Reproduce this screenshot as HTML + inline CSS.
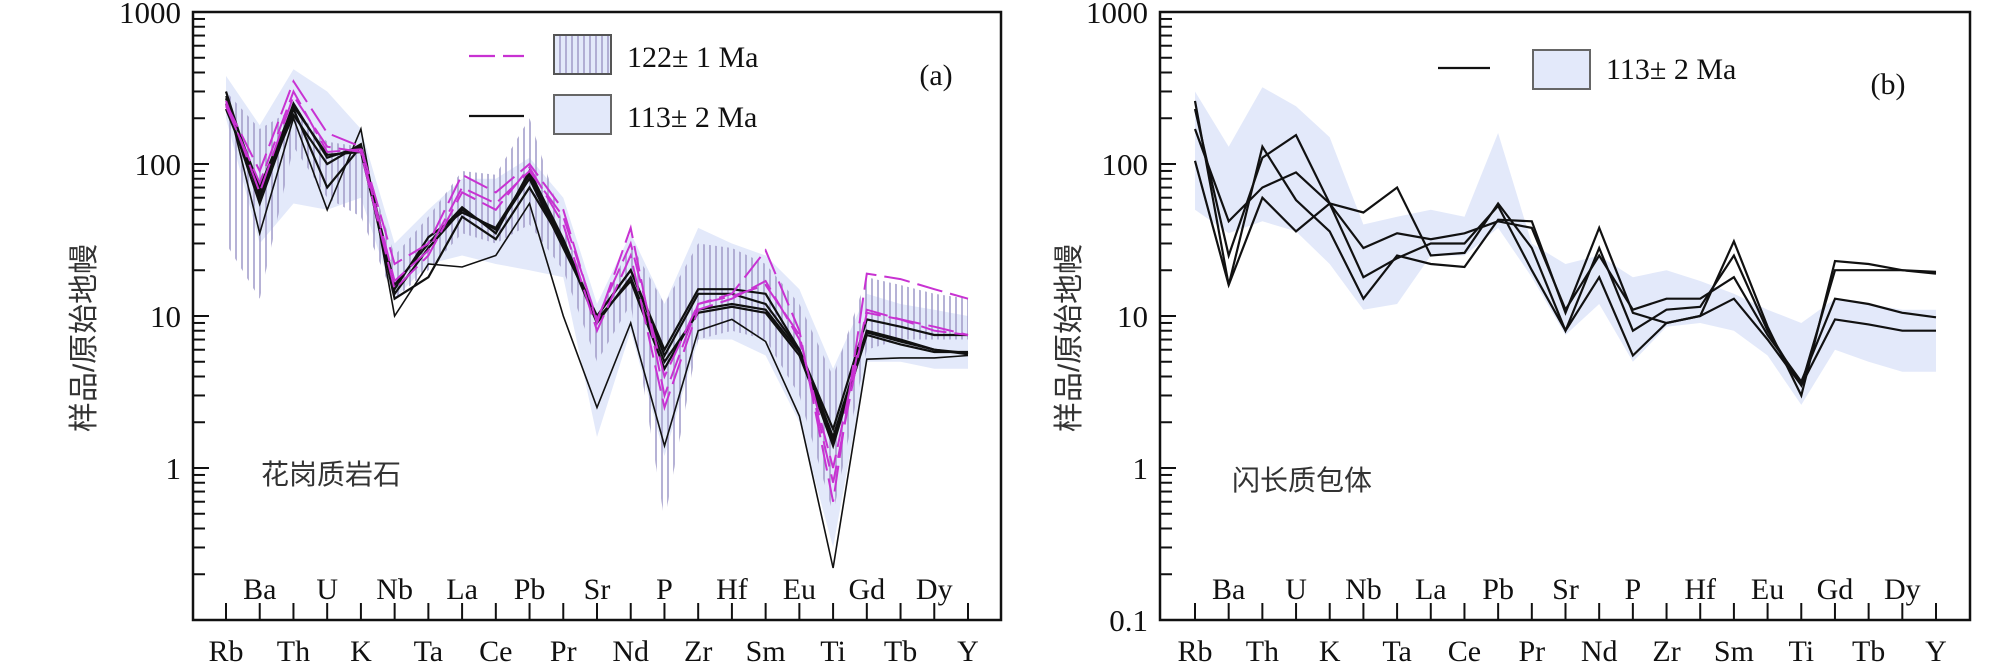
<!DOCTYPE html>
<html><head><meta charset="utf-8"><style>
html,body{margin:0;padding:0;background:#fff;}
svg{display:block;}
text{font-family:"Liberation Serif","Noto Serif CJK SC",serif;fill:#111;}
.cjk{font-family:"Liberation Sans","Noto Sans CJK SC",sans-serif;fill:#333;}
</style></head><body>
<svg id="chart" width="2008" height="668" viewBox="0 0 2008 668" xmlns="http://www.w3.org/2000/svg">
<defs>
<pattern id="hatch" patternUnits="userSpaceOnUse" width="6" height="10">
<line x1="2" y1="0" x2="2" y2="10" stroke="#a49fcb" stroke-width="1.6"/>
</pattern>
</defs>
</svg>
<script>
const elements = ["Rb","Ba","Th","U","K","Nb","Ta","La","Ce","Pb","Pr","Sr","Nd","P","Zr","Hf","Sm","Eu","Ti","Gd","Tb","Dy","Y"];
const yTicks = [0.1,1,10,100,1000];
const yTickLabels = ["0.1","1","10","100","1000"];
// Panel (a)
const aBand113Upper = [380,180,420,300,170,30,50,80,80,110,60,12,35,12,38,30,25,15,4.5,14,12,11,10];
const aBand113Lower = [200,30,55,50,60,13,22,25,22,20,18,1.6,8,1.2,7,7,5.5,2,0.3,5,5,4.5,4.5];
const aBand122Upper = [300,170,230,140,130,25,45,90,85,200,40,10,30,12,30,28,22,12,4,18,16,14,13];
const aBand122Lower = [30,13,130,60,45,13,20,35,30,40,20,5,12,0.45,7,8,7,3,0.5,6,7,7,7];
const aMag1 = [250,90,350,160,130,22,30,85,65,100,50,9,38,3,12,14,27,8,0.6,19,17.5,15,13];
const aMag2 = [260,65,280,130,120,15,25,65,50,95,40,8,25,2.5,11,13,17,7,1.0,11,9.5,8.5,7.5];
const aMag3 = [240,75,300,120,125,17,27,70,55,90,45,9.5,30,4,12,13.5,16,7.5,0.8,10.5,9.5,8,7.5];
const aBlk1 = [300,60,250,110,130,14,28,50,37,80,28,10,20,6,15,15,14,6,1.8,9.5,8.5,7.5,7.5];
const aBlk2 = [280,35,200,50,170,10,22,21,25,55,10,2.5,9,1.4,8,9.5,6.8,2.2,0.22,5.2,5.3,5.3,5.5];
const aBlk3 = [250,55,230,70,130,13,18,45,32,70,30,9,18,5,10.5,11.5,10.5,5.5,1.5,7.5,6.5,5.8,5.8];
const aBlk4 = [270,70,240,115,120,15,33,48,38,85,30,10,20,5.5,14,14,12,6,1.6,8,7,6,5.6];
const aBlk5 = [230,65,210,100,135,16,30,52,35,90,32,9.5,17,4.5,11,12,11,5.8,1.4,7.8,6.8,6,5.7];
// Panel (b)
const bBandUpper = [300,130,320,240,150,40,45,50,45,160,30,22,25,18,20,17,14,11,9,13,12,11,11];
const bBandLower = [50,35,42,36,22,11,12,25,25,38,18,7.5,12,5,8.5,9,8,5.5,2.6,6,5,4.3,4.3];
const bBlk1 = [260,16,130,58,36,13,25,22,21,43,42,10.5,38,10.5,9,10,31,8.5,3,23,22,20,19.5];
const bBlk2 = [230,25,110,155,55,48,70,25,26,55,28,8,28,8,11,11.5,25,8,3.5,20,20,20,19];
const bBlk3 = [170,42,70,88,55,28,35,32,35,42,38,11,25,11,13,13,18,7.5,3.7,13,12,10.5,9.8];
const bBlk4 = [105,16,60,36,55,18,24,30,30,53,20,8,18,5.5,9,10,13,7,3.5,9.5,8.8,8,8];

const NS="http://www.w3.org/2000/svg";
const svg=document.getElementById('chart');
function mk(tag,attrs,parent){const e=document.createElementNS(NS,tag);for(const k in attrs)e.setAttribute(k,attrs[k]);(parent||svg).appendChild(e);return e;}

function panel(cfg){
  const g=mk('g',{});
  
  
  const top=12,bot=620,L=cfg.left,R=cfg.right;
  const x0=cfg.x0,x1=cfg.x1;
  const xs=i=>x0+(x1-x0)*i/(elements.length-1);
  const ys=v=>bot-(Math.log10(v)+1)*(bot-top)/4;
  const pts=a=>a.map((v,i)=>xs(i).toFixed(1)+','+ys(v).toFixed(1));
  function band(up,lo,fill,name){
    const p=mk('polygon',{points:pts(up).concat(pts(lo).reverse()).join(' '),fill:fill,stroke:'none'},g);
    
    
  }
  function line(a,stroke,dash,w,name){
    const p=mk('polyline',{points:pts(a).join(' '),fill:'none',stroke:stroke,'stroke-width':w,'stroke-linejoin':'miter'},g);
    if(dash)p.setAttribute('stroke-dasharray',dash);
    
    
  }
  cfg.bands.forEach(b=>band(b[0],b[1],b[2],b[3]));
  cfg.lines.forEach(l=>line(l[0],l[1],l[2],l[3],l[4]));
  const fr=mk('rect',{x:L,y:top,width:R-L,height:bot-top,fill:'none',stroke:'#111','stroke-width':2.5},g);
  
  
  for(let d=-1;d<3;d++){for(let m=1;m<10;m++){const v=m*Math.pow(10,d);const y=ys(v);
    mk('line',{x1:L,x2:L+(m===1?16:12),y1:y,y2:y,stroke:'#111','stroke-width':2},g);}}
  yTicks.forEach((v,i)=>{
    if(v===0.1&&!cfg.showMin)return;
    const t=mk('text',{x:L-12,y:ys(v)+11,'text-anchor':'end','font-size':31},g);t.textContent=yTickLabels[i];
    
    
  });
  elements.forEach((el,i)=>{
    const x=xs(i);
    mk('line',{x1:x,x2:x,y1:603,y2:bot,stroke:'#111','stroke-width':2},g);
    const t=mk('text',{x:x,y:i%2===0?661:599,'text-anchor':'middle','font-size':30},g);t.textContent=el;
    
    
  });
  const yt=mk('text',{x:0,y:0,transform:`translate(${cfg.ytx},338) rotate(-90)`,'text-anchor':'middle','font-size':30,class:'cjk'},g);
  yt.textContent='样品/原始地幔';
  
  
  const an=mk('text',{x:cfg.annX,y:cfg.annY,'font-size':28,class:'cjk'},g);
  an.textContent=cfg.ann;
  
  
  const pl=mk('text',{x:cfg.plX,y:cfg.plY,'text-anchor':'middle','font-size':30},g);
  pl.textContent=cfg.pl;
  
  
  return g;
}

const ga=panel({name:'panel-a',left:193,right:1001,x0:226,x1:968,showMin:false,ytx:94,annX:261,annY:484,ann:'花岗质岩石',plX:936,plY:85,pl:'(a)',
  bands:[[aBand113Upper,aBand113Lower,'#e3e9fa','band-113ma'],[aBand122Upper,aBand122Lower,'url(#hatch)','band-122ma']],
  lines:[[aBlk1,'#111',null,2.2,'line-113-1'],[aBlk2,'#111',null,1.6,'line-113-2'],[aBlk3,'#111',null,2.2,'line-113-3'],[aBlk4,'#111',null,2.2,'line-113-4'],[aBlk5,'#111',null,2.2,'line-113-5'],
         [aMag1,'#c832d2','26 8',2,'line-122-1'],[aMag2,'#c832d2','26 8',2,'line-122-2'],[aMag3,'#c832d2','26 8',2,'line-122-3']]});
const gb=panel({name:'panel-b',left:1160,right:1970,x0:1195,x1:1936,showMin:true,ytx:1079,annX:1232,annY:490,ann:'闪长质包体',plX:1888,plY:94,pl:'(b)',
  bands:[[bBandUpper,bBandLower,'#e3e9fa','band-113ma']],
  lines:[[bBlk1,'#111',null,2.2,'enclave-line-1'],[bBlk2,'#111',null,2.2,'enclave-line-2'],[bBlk3,'#111',null,2.2,'enclave-line-3'],[bBlk4,'#111',null,2.2,'enclave-line-4']]});

function legend(parent,lx1,lx2,ly,stroke,dash,bx,by,fill,label,name){
  const g=mk('g',{},parent);
  
  
  const l=mk('line',{x1:lx1,x2:lx2,y1:ly,y2:ly,stroke:stroke,'stroke-width':2.2},g);
  if(dash)l.setAttribute('stroke-dasharray',dash);
  mk('rect',{x:bx,y:by,width:57,height:39,fill:'#e3e9fa',stroke:'#666','stroke-width':2},g);
  if(fill!=='#e3e9fa')mk('rect',{x:bx,y:by,width:57,height:39,fill:fill,stroke:'#555','stroke-width':2},g);
  const t=mk('text',{x:bx+73,y:ly+11,'font-size':30},g);t.textContent=label;
}
legend(ga,469,524,56,'#c832d2','26 8',554,35,'url(#hatch)','122± 1 Ma','legend-122ma');
legend(ga,469,524,116,'#111',null,554,95,'#e3e9fa','113± 2 Ma','legend-113ma');
legend(gb,1438,1490,68,'#111',null,1533,50,'#e3e9fa','113± 2 Ma','legend-113ma-b');
</script>
</body></html>
